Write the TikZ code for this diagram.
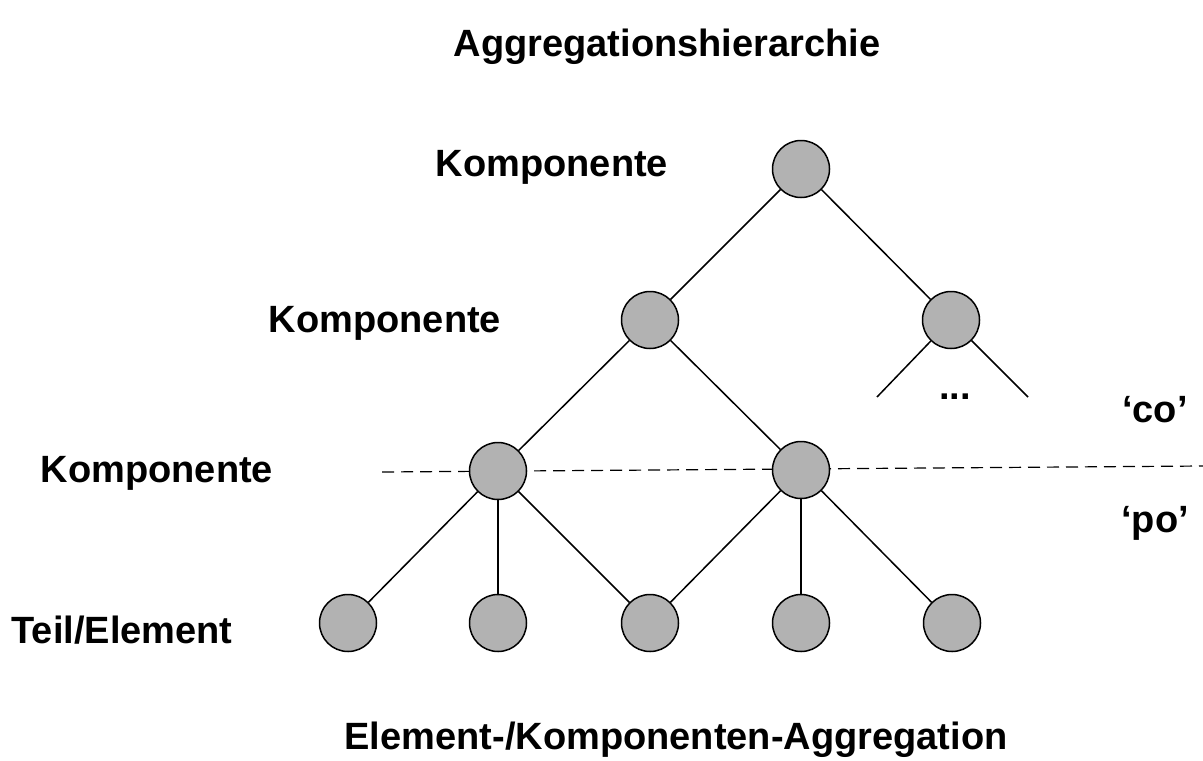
\documentclass[tikz,border=0pt]{standalone}
\usepackage{fontspec}
\setmainfont{Liberation Sans}

\begin{document}
\begin{tikzpicture}[x=0.5pt, y=-0.5pt, every node/.style={font=\fontsize{19}{22}\selectfont\bfseries},
  knot/.style={circle, draw, fill=black!30, line width=0.75pt, minimum size=28.5pt, inner sep=0pt},
  edge/.style={line width=0.75pt}]
\useasboundingbox (0,0) rectangle (1203,760);
% separating dashed line
\coordinate (dl) at (382,472);
\coordinate (dr) at (1203,466);
\draw[line width=0.6pt, dash pattern=on 6pt off 3.5pt] (dl) -- (dr);
% tree nodes
\node[knot] (r) at (801,169) {};
\node[knot] (a) at (650,320) {};
\node[knot] (b) at (951,320) {};
\node[knot] (c) at (498,471) {};
\node[knot] (d) at (801,470) {};
\node[knot] (t1) at (348,623) {};
\node[knot] (t2) at (498,623) {};
\node[knot] (t3) at (650,623) {};
\node[knot] (t4) at (801,623) {};
\node[knot] (t5) at (952,623) {};
% open ends below the right node
\coordinate (e1) at (877,397);
\coordinate (e2) at (1028,397);
% edges
\draw[edge] (r) -- (a);
\draw[edge] (r) -- (b);
\draw[edge] (a) -- (c);
\draw[edge] (a) -- (d);
\draw[edge] (b) -- (e1);
\draw[edge] (b) -- (e2);
\draw[edge] (c) -- (t1);
\draw[edge] (c) -- (t2);
\draw[edge] (c) -- (t3);
\draw[edge] (d) -- (t3);
\draw[edge] (d) -- (t4);
\draw[edge] (d) -- (t5);
\node (dots) at (955,397) {...};
% labels
\node (top) at (667,47) {Aggregationshierarchie};
\node (k0) at (552,167) {Komponente};
\node (k1) at (385,323) {Komponente};
\node (k2) at (157,473) {Komponente};
\node (te) at (122,630) {Teil/Element};
\node (co) at (1155,410) {‘co’};
\node (po) at (1155,523) {‘po’};
\node (bot) at (676,740) {Element-/Komponenten-Aggregation};
\end{tikzpicture}
\end{document}
